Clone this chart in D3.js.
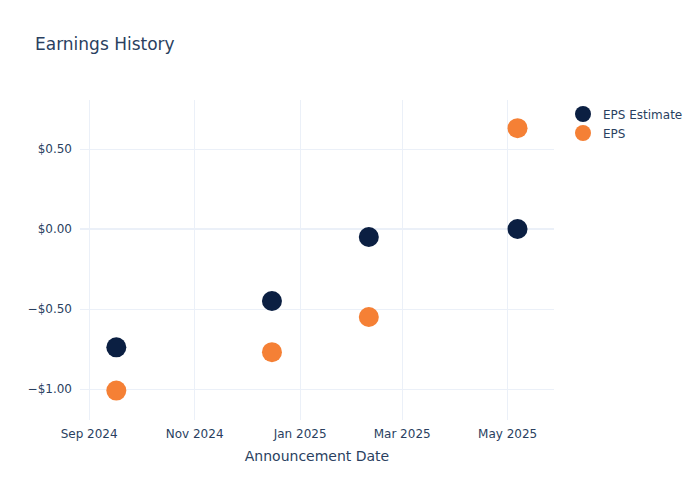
<!DOCTYPE html>
<html>
<head>
<meta charset="utf-8">
<script src="https://cdn.jsdelivr.net/npm/d3@7"></script>
<style>
  body { margin: 0; background: #fff; }
  svg { font-family: "DejaVu Sans", verdana, sans-serif; }
</style>
</head>
<body>
<svg id="chart" width="700" height="500"></svg>
<script>
const dates = ["2024-09-17", "2024-12-16", "2025-02-10", "2025-05-07"];
const epsEstimate = [-0.74, -0.45, -0.05, 0.00];
const eps = [-1.01, -0.77, -0.55, 0.63];
const xTickDates = ["2024-09-01", "2024-11-01", "2025-01-01", "2025-03-01", "2025-05-01"];
const yTicks = [-1.0, -0.5, 0.0, 0.5];
const seriesNames = ["EPS Estimate", "EPS"];
const seriesColors = ["#0b1f42", "#f58035"];

const FONT = '"DejaVu Sans", verdana, sans-serif';
const parse = d3.utcParse("%Y-%m-%d");
const svg = d3.select("#chart");
const W = 700, H = 500;
const m = { l: 80, r: 146, t: 100, b: 80 };
const pw = W - m.l - m.r, ph = H - m.t - m.b;
const textColor = "#2a3f5f";
const gridColor = "#ebf0f8";

const x = d3.scaleUtc()
  .domain([parse("2024-08-27"), new Date(Date.UTC(2025, 4, 28, 2))])
  .range([m.l, m.l + pw]);
const y = d3.scaleLinear().domain([-1.194, 0.806]).range([m.t + ph, m.t]);

// Title
svg.append("text").attr("x", 35).attr("y", 50)
  .attr("font-size", 17).attr("fill", textColor).text("Earnings History");

// Grid
const g = svg.append("g");
g.selectAll(".vg").data(xTickDates).join("line")
  .attr("x1", d => Math.round(x(parse(d))) + 0.5).attr("x2", d => Math.round(x(parse(d))) + 0.5)
  .attr("y1", m.t).attr("y2", m.t + ph)
  .attr("stroke", gridColor).attr("stroke-width", 1);
g.selectAll(".hg").data(yTicks).join("line")
  .attr("x1", m.l).attr("x2", m.l + pw)
  .attr("y1", d => d === 0 ? Math.round(y(d)) : Math.round(y(d)) + 0.5)
  .attr("y2", d => d === 0 ? Math.round(y(d)) : Math.round(y(d)) + 0.5)
  .attr("stroke", gridColor).attr("stroke-width", d => d === 0 ? 2 : 1);

// Axes
const fmtMoney = d => (d < 0 ? "\u2212$" : "$") + Math.abs(d).toFixed(2);
const xAxis = d3.axisBottom(x)
  .tickValues(xTickDates.map(parse))
  .tickFormat(d3.utcFormat("%b %Y"))
  .tickSize(0).tickPadding(9);
const xa = svg.append("g").attr("transform", `translate(0,${m.t + ph})`).call(xAxis);
xa.select(".domain").remove();
xa.selectAll("text").attr("font-size", 12).attr("fill", textColor).attr("font-family", FONT);

const yAxis = d3.axisLeft(y).tickValues(yTicks).tickFormat(fmtMoney)
  .tickSize(0).tickPadding(8);
const ya = svg.append("g").attr("transform", `translate(${m.l},0)`).call(yAxis);
ya.select(".domain").remove();
ya.selectAll("text").attr("font-size", 12).attr("fill", textColor).attr("font-family", FONT);

// Axis title
svg.append("text").attr("x", m.l + pw / 2).attr("y", 461)
  .attr("text-anchor", "middle").attr("font-size", 14).attr("fill", textColor)
  .text("Announcement Date");

// Points
const series = [epsEstimate, eps];
series.forEach((vals, i) => {
  svg.append("g").selectAll("circle")
    .data(vals.map((v, j) => ({ d: parse(dates[j]), v })))
    .join("circle")
    .attr("cx", d => x(d.d)).attr("cy", d => y(d.v))
    .attr("r", 10).attr("fill", seriesColors[i]);
});

// Legend
const lg = svg.append("g");
seriesNames.forEach((name, i) => {
  const yy = 114 + i * 19;
  lg.append("circle").attr("cx", 583).attr("cy", yy).attr("r", 8).attr("fill", seriesColors[i]);
  lg.append("text").attr("x", 603).attr("y", yy + 4.5)
    .attr("font-size", 12).attr("fill", textColor).text(name);
});
</script>
</body>
</html>
